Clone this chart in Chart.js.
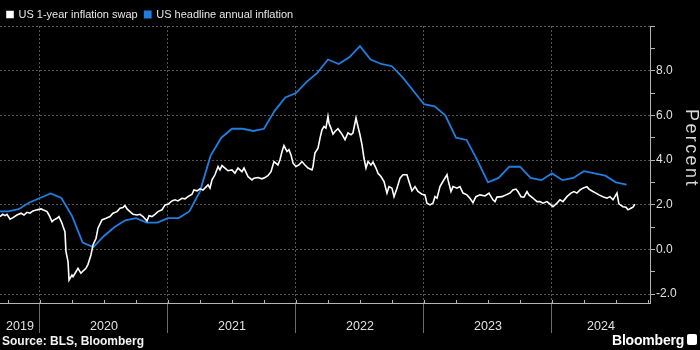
<!DOCTYPE html>
<html>
<head>
<meta charset="utf-8">
<script src="https://cdn.jsdelivr.net/npm/chart.js@4.4.1/dist/chart.umd.min.js"></script>
<style>
    html, body { margin: 0; padding: 0; background: #000; }
    #wrap { position: relative; width: 700px; height: 350px; overflow: hidden; }
    canvas { display: block; }
    .source { position: absolute; left: 2px; top: 334px; font: bold 12px "Liberation Sans", sans-serif; color: #f2f2f2; }
    .brand { position: absolute; left: 612px; top: 332px; font: bold 14px "Liberation Sans", sans-serif; color: #fff; letter-spacing: -0.2px; }
    .logo { position: absolute; left: 687px; top: 334px; width: 10px; height: 11px; background: #fff; border-radius: 2px; }
    .ytitle { position: absolute; left: 683px; top: 109px; width: 18px; font: 18px "Liberation Sans", sans-serif; line-height: 18px; letter-spacing: 2.4px; color: #d8d8d8; writing-mode: vertical-rl; }
</style>
</head>
<body>
<div id="wrap">
    <canvas id="chart" width="700" height="350"></canvas>
    <div class="ytitle">Percent</div>
    <div class="source">Source: BLS, Bloomberg</div>
    <div class="brand">Bloomberg</div>
    <div class="logo"></div>
</div>
<script>
// Axis range (decimal years) and tick labels
const X_MIN = 2019.6875;
const X_MAX = 2024.766;
const yearLabels = ['2019', '2020', '2021', '2022', '2023', '2024'];
const yTickValues = [-2, -1, 0, 1, 2, 3, 4, 5, 6, 7, 8, 9, 10];

// US headline CPI, % y/y, monthly
const cpiMonths = [
    '2019-08', '2019-09', '2019-10', '2019-11', '2019-12',
    '2020-01', '2020-02', '2020-03', '2020-04', '2020-05', '2020-06', '2020-07', '2020-08', '2020-09', '2020-10', '2020-11', '2020-12',
    '2021-01', '2021-02', '2021-03', '2021-04', '2021-05', '2021-06', '2021-07', '2021-08', '2021-09', '2021-10', '2021-11', '2021-12',
    '2022-01', '2022-02', '2022-03', '2022-04', '2022-05', '2022-06', '2022-07', '2022-08', '2022-09', '2022-10', '2022-11', '2022-12',
    '2023-01', '2023-02', '2023-03', '2023-04', '2023-05', '2023-06', '2023-07', '2023-08', '2023-09', '2023-10', '2023-11', '2023-12',
    '2024-01', '2024-02', '2024-03', '2024-04', '2024-05', '2024-06', '2024-07'
];
const cpiValues = [
    1.7, 1.7, 1.8, 2.1, 2.3,
    2.5, 2.3, 1.5, 0.3, 0.1, 0.6, 1.0, 1.3, 1.4, 1.2, 1.2, 1.4,
    1.4, 1.7, 2.6, 4.2, 5.0, 5.4, 5.4, 5.3, 5.4, 6.2, 6.8, 7.0,
    7.5, 7.9, 8.5, 8.3, 8.6, 9.1, 8.5, 8.3, 8.2, 7.7, 7.1, 6.5,
    6.4, 6.0, 5.0, 4.9, 4.0, 3.0, 3.2, 3.7, 3.7, 3.2, 3.1, 3.4,
    3.1, 3.2, 3.5, 3.4, 3.3, 3.0, 2.9
];

// US 1-year inflation swap, % (decimal year, value)
const swapDates = [
    2019.688, 2019.709, 2019.727, 2019.742, 2019.766, 2019.789, 2019.820, 2019.852, 2019.875, 2019.898, 2019.922, 2019.945, 2019.977,
    2020.008, 2020.023, 2020.055, 2020.070, 2020.094, 2020.109, 2020.133, 2020.148, 2020.172, 2020.180,
    2020.195, 2020.203, 2020.219, 2020.227, 2020.250, 2020.258, 2020.281, 2020.297, 2020.320, 2020.336,
    2020.359, 2020.375, 2020.398, 2020.414, 2020.438, 2020.453, 2020.484, 2020.516, 2020.547, 2020.570,
    2020.602, 2020.625, 2020.648, 2020.664, 2020.680, 2020.703, 2020.727, 2020.758, 2020.781, 2020.805,
    2020.836, 2020.852, 2020.875, 2020.898, 2020.922, 2020.953, 2020.977,
    2021.000, 2021.031, 2021.055, 2021.078, 2021.109, 2021.133, 2021.156, 2021.188, 2021.203, 2021.227,
    2021.250, 2021.273, 2021.313, 2021.328, 2021.344, 2021.367, 2021.391, 2021.406, 2021.422, 2021.445,
    2021.469, 2021.500, 2021.523, 2021.547, 2021.578, 2021.594, 2021.625, 2021.656, 2021.672, 2021.703,
    2021.734, 2021.758, 2021.781, 2021.805, 2021.828, 2021.859, 2021.875, 2021.891, 2021.906, 2021.930,
    2021.945, 2021.961, 2021.977,
    2022.000, 2022.023, 2022.047, 2022.070, 2022.094, 2022.125, 2022.133, 2022.148, 2022.172, 2022.188,
    2022.203, 2022.219, 2022.234, 2022.250, 2022.258, 2022.273, 2022.289, 2022.305, 2022.328, 2022.344,
    2022.359, 2022.383, 2022.406, 2022.430, 2022.445, 2022.469, 2022.484, 2022.500, 2022.516, 2022.531,
    2022.547, 2022.563, 2022.586, 2022.602, 2022.625, 2022.641, 2022.664, 2022.688, 2022.711, 2022.727,
    2022.750, 2022.766, 2022.789, 2022.813, 2022.836, 2022.867, 2022.883, 2022.906, 2022.930, 2022.953,
    2022.984,
    2023.008, 2023.023, 2023.047, 2023.070, 2023.086, 2023.102, 2023.125, 2023.148, 2023.180, 2023.188,
    2023.211, 2023.227, 2023.258, 2023.281, 2023.305, 2023.336, 2023.359, 2023.383, 2023.406, 2023.438,
    2023.477, 2023.508, 2023.539, 2023.555, 2023.570, 2023.609, 2023.641, 2023.672, 2023.695, 2023.719,
    2023.734, 2023.758, 2023.781, 2023.805, 2023.820, 2023.852, 2023.883, 2023.906, 2023.930, 2023.961,
    2023.992,
    2024.008, 2024.039, 2024.063, 2024.086, 2024.117, 2024.148, 2024.172, 2024.195, 2024.219, 2024.242,
    2024.273, 2024.289, 2024.320, 2024.344, 2024.367, 2024.398, 2024.430, 2024.453, 2024.477, 2024.508,
    2024.523, 2024.555, 2024.578, 2024.594, 2024.617, 2024.633, 2024.648
];
const swapValues = [
    1.47, 1.57, 1.51, 1.57, 1.35, 1.42, 1.54, 1.62, 1.54, 1.66, 1.62, 1.72, 1.77,
    1.81, 1.77, 1.69, 1.54, 1.24, 1.32, 1.39, 1.47, 1.17, 1.02,
    0.79, -0.10, -0.55, -1.37, -1.15, -1.22, -1.00, -0.85, -1.07, -0.97,
    -0.85, -0.67, -0.25, 0.20, 0.50, 0.95, 1.32, 1.39, 1.47, 1.62,
    1.69, 1.84, 1.87, 1.96, 1.81, 1.69, 1.57, 1.54, 1.57, 1.47,
    1.27, 1.51, 1.47, 1.57, 1.69, 1.77, 1.99,
    2.02, 2.17, 2.22, 2.17, 2.29, 2.26, 2.36, 2.47, 2.66, 2.62,
    2.71, 2.66, 2.89, 2.74, 3.11, 3.34, 3.71, 3.56, 3.75, 3.64,
    3.52, 3.56, 3.41, 3.64, 3.48, 3.64, 3.26, 3.11, 3.19, 3.22,
    3.16, 3.22, 3.30, 3.48, 3.93, 3.78, 4.01, 4.38, 4.65, 4.38,
    4.46, 4.23, 3.86,
    3.71, 3.78, 3.93, 3.78, 3.64, 3.56, 3.71, 4.31, 4.53, 4.98,
    5.35, 5.50, 5.43, 5.95, 5.65, 5.43, 5.16, 5.28, 5.40, 5.28,
    5.16, 4.91, 5.21, 5.13, 5.21, 5.88, 5.50, 5.13, 4.68, 4.09,
    3.64, 3.93, 3.78, 3.91, 3.64, 3.41, 3.26, 3.04, 2.52, 2.81,
    2.74, 2.36, 2.74, 3.19, 3.34, 3.34, 3.04, 2.62, 2.81, 2.59,
    2.47,
    2.44, 2.07, 1.99, 2.07, 2.36, 2.29, 2.81, 3.04, 3.34, 3.11,
    2.59, 2.81, 2.74, 2.81, 2.52, 2.44, 2.29, 2.09, 2.36, 2.44,
    2.39, 2.52, 2.22, 2.14, 2.34, 2.36, 2.44, 2.52, 2.66, 2.70,
    2.59, 2.36, 2.34, 2.59, 2.44, 2.29, 2.14, 2.14, 2.07, 2.14,
    1.99,
    1.91, 2.07, 2.22, 2.14, 2.36, 2.52, 2.59, 2.52, 2.66, 2.74,
    2.81, 2.70, 2.59, 2.52, 2.44, 2.36, 2.29, 2.36, 2.22, 2.52,
    2.04, 1.91, 1.89, 1.77, 1.84, 1.89, 2.02
];

const FONT = '"Liberation Sans", Arial, sans-serif';
const GRID = '#565656';
const AXIS = '#b4b4b4';
const WHITE = '#ffffff';
const BLUE = '#1f7fe0';

// month string -> decimal year (plotted at month end)
function monthToYear(m) {
    const [y, mo] = m.split('-').map(Number);
    return y + mo / 12;
}

const swapPoints = swapDates.map((t, i) => ({ x: t, y: swapValues[i] }));
const cpiPoints = cpiMonths.map((m, i) => ({ x: monthToYear(m), y: cpiValues[i] }));

// small quarterly ticks pointing up from the time axis
const quarterTicks = {
    id: 'quarterTicks',
    afterDraw(chart) {
        const { ctx, chartArea, scales: { x } } = chart;
        ctx.save();
        ctx.strokeStyle = AXIS;
        ctx.lineWidth = 1;
        ctx.beginPath();
        for (let q = Math.ceil(X_MIN * 4) / 4; q <= X_MAX; q += 0.25) {
            const px = Math.round(x.getPixelForValue(q)) + 0.5;
            ctx.moveTo(px, chartArea.bottom);
            ctx.lineTo(px, chartArea.bottom - 3);
        }
        ctx.stroke();
        ctx.restore();
    }
};

new Chart(document.getElementById('chart'), {
    type: 'line',
    data: {
        datasets: [
            {
                label: 'US 1-year inflation swap',
                data: swapPoints,
                borderColor: WHITE,
                backgroundColor: WHITE,
                borderWidth: 1.6,
                pointRadius: 0,
                tension: 0
            },
            {
                label: 'US headline annual inflation',
                data: cpiPoints,
                borderColor: BLUE,
                backgroundColor: BLUE,
                borderWidth: 1.8,
                pointRadius: 0,
                tension: 0
            }
        ]
    },
    plugins: [quarterTicks],
    options: {
        responsive: false,
        animation: false,
        events: [],
        layout: { padding: { top: 2 } },
        plugins: {
            tooltip: { enabled: false },
            legend: {
                position: 'top',
                align: 'start',
                maxHeight: 24,
                labels: {
                    boxWidth: 6,
                    boxHeight: 6,
                    padding: 7,
                    color: '#e6e6e6',
                    font: { family: FONT, size: 11 }
                }
            }
        },
        scales: {
            x: {
                type: 'linear',
                min: X_MIN,
                max: X_MAX,
                afterBuildTicks: (scale) => {
                    const ticks = [];
                    yearLabels.forEach(label => {
                        const y = Number(label);
                        if (y > X_MIN) ticks.push({ value: y });
                        ticks.push({ value: (Math.max(y, X_MIN) + Math.min(y + 1, X_MAX)) / 2 });
                    });
                    scale.ticks = ticks;
                },
                afterFit: (scale) => { scale.height = 47; },
                grid: {
                    color: (ctx) => (ctx.tick && Number.isInteger(ctx.tick.value)) ? GRID : 'rgba(0,0,0,0)',
                    tickColor: (ctx) => (ctx.tick && Number.isInteger(ctx.tick.value)) ? '#6a6a6a' : 'rgba(0,0,0,0)',
                    tickLength: 30
                },
                border: { color: AXIS, width: 1, dash: [2, 2] },
                ticks: {
                    autoSkip: false,
                    maxRotation: 0,
                    padding: -14,
                    color: '#e0e0e0',
                    font: { family: FONT, size: 12.5 },
                    callback: (v) => Number.isInteger(v) ? '' : String(Math.floor(v))
                }
            },
            y: {
                position: 'right',
                min: -2.4,
                max: 10,
                afterBuildTicks: (scale) => {
                    scale.ticks = yTickValues.map(v => ({ value: v }));
                },
                afterFit: (scale) => { scale.width = 50; },
                grid: {
                    color: (ctx) => (ctx.tick && ctx.tick.value % 2 === 0) ? GRID : 'rgba(0,0,0,0)',
                    tickColor: AXIS,
                    tickLength: 5
                },
                border: { color: AXIS, width: 1, dash: [2, 2] },
                ticks: {
                    padding: 1,
                    color: '#e0e0e0',
                    font: { family: FONT, size: 12 },
                    callback: (v) => (v % 2 === 0 && v < 10) ? v.toFixed(1) : ''
                }
            }
        }
    }
});
</script>
</body>
</html>
